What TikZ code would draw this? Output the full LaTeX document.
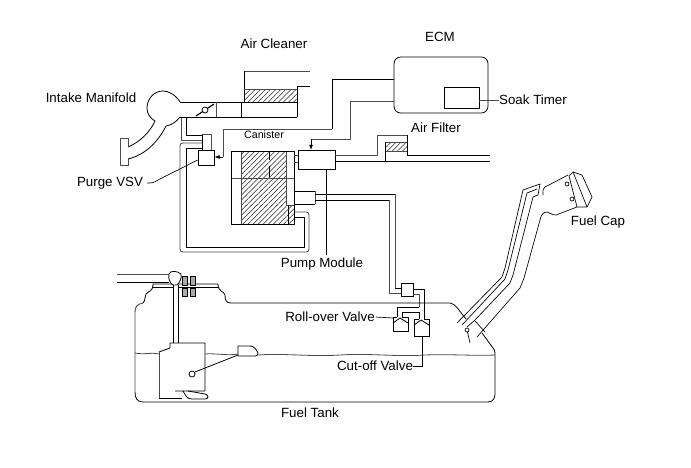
\documentclass[tikz,border=0pt]{standalone}
\usepackage{fontspec}
\setmainfont{Liberation Sans}
\usetikzlibrary{patterns.meta,arrows.meta}
\definecolor{linegray}{RGB}{75,75,75}
\definecolor{hatchgray}{RGB}{40,40,40}
\definecolor{stripegray}{RGB}{170,170,170}
\tikzset{
	pipe/.style={black,line width=0.6pt,line join=round},
	pipegray/.style={linegray,line width=0.7pt,line join=round},
	hatch/.style={pattern={Lines[angle=45,distance=2.7pt,line width=0.4pt]},pattern color=hatchgray},
	thin line/.style={black,line width=0.5pt,line join=round},
	label/.style={font=\fontsize{10}{12}\selectfont,inner sep=0pt},
	signal/.style={pipe,-{Latex[length=4pt,width=3pt]}}
}
\begin{document}
\begin{tikzpicture}[x=0.75pt,y=-0.75pt]
	\useasboundingbox (0,0) rectangle (691,467);
	\fill[white] (0,0) rectangle (691,467);

	% Labels
	\node[label] (aircleaner) at (274,44) {Air Cleaner};
	\node[label] (ecmlabel) at (440,37) {ECM};
	\node[label] (manifold) at (91,98) {Intake Manifold};
	\node[label] (soak) at (533,100) {Soak Timer};
	\node[label,font=\fontsize{8}{9}\selectfont] (canlabel) at (264,135) {Canister};
	\node[label] (airfilter) at (436,128) {Air Filter};
	\node[label] (purgelabel) at (110,183) {Purge VSV};
	\node[label] (fuelcap) at (598,222) {Fuel Cap};
	\node[label] (pumplabel) at (322,264) {Pump Module};
	\node[label] (rolllabel) at (330,317) {Roll-over Valve};
	\node[label] (cutlabel) at (375,366) {Cut-off Valve};
	\node[label] (tanklabel) at (310,413) {Fuel Tank};

	% Air cleaner and intake
	\fill[hatch] (244,89) rectangle (297,102);
	\draw[pipegray] (244,71) -- (310,71);
	\draw[pipe] (244,71) -- (244,102);
	\draw[pipegray] (244,89) -- (297,89);
	\draw[pipe] (310,86) -- (297,86) -- (297,117);
	\draw[pipe] (180,102) -- (297,102);
	\draw[pipe] (180,117) -- (297,117);
	\draw[pipe] (241,102) -- (241,117);
	\draw[pipegray] (216,102) -- (216,117);
	\draw[pipe,line width=0.9pt] (196,116) -- (214,104);
	\draw[pipe,fill=white] (205,110) circle (3);

	% Manifold
	\draw[pipe] (180,102) .. controls (175,94) and (168,91) .. (163,91)
		.. controls (153,91) and (147,100) .. (147,108)
		.. controls (147,114) and (150,118) .. (155,121)
		.. controls (150,132) and (140,142) .. (128,147);
	\draw[pipegray] (128,147) -- (128,138) -- (120,138) -- (120,165) -- (128,165) -- (128,159);
	\draw[pipe] (128,159) .. controls (145,155) and (158,142) .. (166,126)
		.. controls (172,125) and (176,122) .. (180,117);

	% Purge VSV
	\draw[pipegray] (202,134) -- (211,134) -- (211,150);
	\draw[pipe] (202,134) -- (202,150);
	\draw[pipegray] (181,118) -- (181,140) -- (202,140);
	\draw[pipe] (186,118) -- (186,135) -- (202,135);
	\draw[pipegray,rounded corners=2pt] (202,143) -- (180,143) -- (180,252) -- (309,252) -- (309,212) -- (295,212);
	\draw[pipe] (202,148) -- (186,148) -- (186,247) -- (304,247) -- (304,217) -- (295,217);
	\node[draw,thin line,fill=white,minimum width=12pt,minimum height=11.25pt,inner sep=0pt] (vsv) at (206,157.5) {};
	\draw[thin line] (147,183) .. controls (152,183) and (153,183) .. (158,180) -- (vsv.west|-0,160);

	% Canister
	\fill[hatch] (241,151) rectangle (286,205);
	\fill[hatch] (241,205) rectangle (288,224);
	\fill[hatch] (288,205) rectangle (294,224);
	\draw[pipegray] (241,151) -- (241,224);
	\draw[pipegray] (231,178) -- (294,178);
	\draw[pipegray] (286,151) -- (286,205) -- (294,205);
	\draw[pipe] (269,151) -- (269,160);
	\draw[pipe] (269,166) -- (269,177);
	\draw[pipe] (288,205) -- (288,224);
	\draw[pipe] (231,151) rectangle (294,224);
	\node[draw,pipe,minimum width=27.75pt,minimum height=14.25pt,inner sep=0pt] (pump) at (316.5,160) {};
	\draw[pipegray] (294,155) -- (298,155);
	\draw[pipegray] (294,162) -- (298,162);
	\draw[pipe] (294,191) -- (315,191);
	\draw[pipegray] (315,191) -- (315,204);
	\draw[pipe] (294,204) -- (315,204);

	% Air filter
	\fill[hatch] (385,142) rectangle (407,151);
	\draw[pipegray] (385,142) -- (407,142);
	\draw[pipegray] (385,151) -- (407,151);
	\draw[pipe] (385,142) -- (385,161);
	\draw[pipegray] (pump.east|-0,155) -- (377,155) -- (377,135) -- (407,135);
	\draw[pipe] (407,135) -- (407,155) -- (490,155);
	\draw[pipe] (pump.east|-0,161) -- (490,161);

	% ECM
	\node[draw,pipe,rounded corners=5pt,minimum width=70.5pt,minimum height=42pt,inner sep=0pt] (ecm) at (441,85) {};
	\node[draw,pipe,minimum width=26.25pt,minimum height=15.75pt,inner sep=0pt] (timer) at (461.5,97.5) {};
	\draw[pipegray] (timer.east|-0,100) -- (soak.west|-0,100);
	\draw[pipe] (ecm.west|-0,79) -- (332,79) -- (332,129);
	\draw[pipegray] (332,129) -- (223,129) -- (223,157);
	\draw[signal] (223,157) -- (vsv.east|-0,157);
	\draw[pipegray] (ecm.west|-0,101) -- (350,101) -- (350,139) -- (311,139);
	\draw[signal] (311,139) -- (pump.north-|311,0);
	\draw[thin line] (326,169) -- (326,255);

	% Pipes to tank
	\draw[pipe] (315,194) -- (395,194);
	\draw[pipegray] (395,194) -- (395,288);
	\draw[pipe] (395,288) -- (402,288);
	\draw[pipe] (315,200) -- (389,200);
	\draw[pipegray] (389,200) -- (389,293) -- (402,293);
	\node[draw,pipe,minimum width=9pt,minimum height=9.75pt,inner sep=0pt] (valvebox) at (407,289.5) {};
	\draw[pipe] (413,289) -- (424,289) -- (424,319);
	\draw[pipegray] (413,294) -- (419,294) -- (419,307);
	\draw[pipe] (419,307) -- (397,307) -- (397,317);
	\draw[pipe] (402,318) -- (402,312) -- (419,312) -- (419,319);

	% Valves
	\draw[pipe] (397,317) -- (393,317) -- (393,331) -- (408,331) -- (408,317) -- (402,317);
	\draw[pipe] (393,323) -- (400,318) -- (408,323);
	\draw[pipe] (419,319) -- (414,319) -- (414,336) -- (429,336) -- (429,319) -- (424,319);
	\draw[pipe] (414,325) -- (421,320) -- (429,325);
	\draw[thin line] (rolllabel.east)+(1,0) -- (393,318);
	\draw[thin line] (422,336) -- (422,366) -- (cutlabel.east|-0,366);

	% Tank
	\draw[pipegray,line width=0.6pt] (135,353) .. controls (145,355) and (150,352) .. (159,354);
	\draw[pipegray,line width=0.6pt] (205,354) .. controls (215,353) and (228,356) .. (238,354);
	\draw[pipegray,line width=0.6pt] (258,355) .. controls (285,353) and (310,357) .. (340,355)
		.. controls (370,353) and (395,357) .. (425,355) .. controls (450,354) and (475,356) .. (495,355);
	\draw[pipegray] (143,303) .. controls (137,304) and (135,307) .. (135,312) -- (135,392);
	\draw[pipe] (135,392) .. controls (135,398) and (137,402) .. (143,402) -- (488,402)
		.. controls (493,402) and (495,398) .. (495,394) -- (495,353) .. controls (495,351) and (494,349) .. (493,348) -- (482,333);
	\draw[pipe] (143,303) .. controls (146,300) and (144,297) .. (146,294) .. controls (148,291) and (153,292) .. (153,284) -- (218,284)
		.. controls (218,292) and (224,291) .. (225,295) .. controls (225,300) and (226,303) .. (231,303) -- (450,303)
		.. controls (455,303) and (460,312) .. (466,319);
	\draw[pipe] (153,287) -- (218,287);

	% Pump in tank
	\draw[thin line,fill=stripegray] (182,276) rectangle (187,285);
	\draw[thin line,fill=stripegray] (190,276) rectangle (195,285);
	\draw[thin line,fill=stripegray] (182,288) rectangle (187,296);
	\draw[thin line,fill=stripegray] (190,288) rectangle (195,296);
	\draw[pipegray] (117,274) -- (169,274);
	\draw[pipe] (117,282) -- (169,282);
	\fill[white] (173,285) rectangle (178,290);
	\draw[pipe,fill=white] (169,274) .. controls (170,270) and (178,271) .. (181,274)
		.. controls (182,278) and (180,282) .. (177,285) -- (173,285) .. controls (170,283) and (168,279) .. (169,274);
	\draw[pipe] (173,285) -- (173,343);
	\draw[pipe] (178,285) -- (178,343);
	\draw[pipe,fill=white] (159,352) -- (170,348) -- (170,343) -- (205,343) -- (205,391) -- (175,391);
	\draw[pipegray] (159,352) -- (159,398);
	\draw[pipe] (159,398) -- (182,398);
	\draw[pipe] (183,391) .. controls (186,396) and (187,399) .. (192,399) -- (205,399)
		.. controls (209,399) and (209,395) .. (205,394) -- (188,391);
	\draw[pipe,fill=white] (192,374) circle (3);
	\draw[pipe] (195,372) -- (238,355);
	\draw[pipe,fill=white] (238,356) -- (238,346) -- (250,346) .. controls (254,346) and (256,349) .. (258,353)
		.. controls (258,355) and (257,356) .. (255,356) -- cycle;

	% Filler neck
	\draw[thin line] (457,323) -- (502,277) -- (505,268) -- (523,190) -- (540,184) -- (538,195) -- (533,197);
	\draw[thin line] (462,325) -- (505,279) -- (508,270) -- (527,193) -- (537,189);
	\draw[thin line] (475,320) -- (510,283) -- (513,275) -- (533,197);
	\draw[thin line] (477,337) -- (520,288) -- (524,278) -- (540,220)
		.. controls (541,215) and (543,212) .. (547,212) .. controls (550,213) and (552,215) .. (556,215) -- (577,207);
	\draw[thin line] (475,321) -- (485,332);
	\draw[thin line] (467,327) -- (475,320);
	\draw[thin line] (467,330) -- (470,343);
	\draw[thin line,fill=white] (467,330) circle (2);

	% Fuel cap
	\draw[thin line] (543,195) .. controls (543,192) and (542,190) .. (545,187) -- (568,175);
	\draw[thin line] (569,176) -- (573,172) -- (582,175) -- (592,197) -- (587,207) -- (577,207) -- cycle;
	\draw[thin line] (573,172) -- (587,207);
	\draw[thin line,fill=white] (567,184) circle (2);
	\draw[thin line,fill=white] (572,199) circle (2);
\end{tikzpicture}
\end{document}
